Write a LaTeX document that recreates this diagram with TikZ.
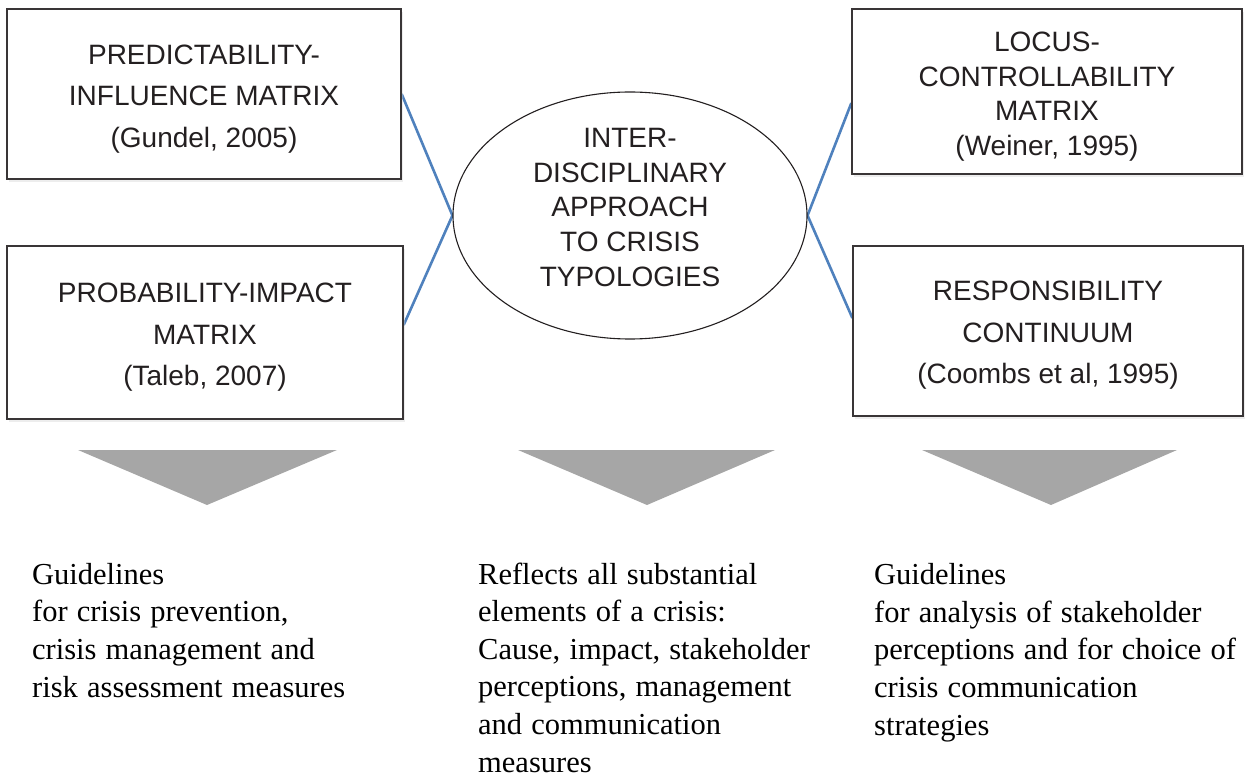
\documentclass[tikz,border=0pt]{standalone}
\usepackage{fontspec}
\setmainfont{Liberation Sans}
\newfontfamily\serifbody{Liberation Serif}
\usetikzlibrary{shadows,shapes.geometric,backgrounds}
\definecolor{linkblue}{RGB}{79,129,189}
\definecolor{chevgray}{RGB}{166,166,166}
\definecolor{ink}{RGB}{35,31,32}
\newcommand\widerspaces{\spaceskip=0.3em plus 0.1em minus 0.05em\relax}
\begin{document}
\begin{tikzpicture}[x=1pt,y=-1pt,
  typebox/.style={draw=ink!90, line width=1.3pt, fill=white, inner sep=0pt,
    drop shadow={shadow xshift=2pt, shadow yshift=-3pt, fill=gray!35, opacity=0.4}},
  boxtext/.style={inner sep=0pt, align=center, text=ink,
    font=\fontsize{28}{41.5}\selectfont},
  tighttext/.style={inner sep=0pt, align=center, text=ink,
    font=\fontsize{28}{34.6}\selectfont},
  centrebox/.style={ellipse, draw=ink, line width=1.1pt, fill=white, inner sep=0pt,
    minimum width=354pt, minimum height=247pt},
  link/.style={draw=linkblue, line width=2.6pt},
  chev/.style={fill=chevgray},
  outtext/.style={anchor=base west, inner sep=0pt, align=left, text=black,
    font=\serifbody\fontsize{30.5}{37.6}\selectfont,
    execute at begin node=\widerspaces}
]
\useasboundingbox (0,0) rectangle (1254,778);

\node[typebox, minimum width=394pt, minimum height=170pt] (tl) at (204,94) {};
\node[typebox, minimum width=396pt, minimum height=173pt] (bl) at (205,332.5) {};
\node[typebox, minimum width=390pt, minimum height=165pt] (tr) at (1047,91.5) {};
\node[typebox, minimum width=390pt, minimum height=170pt] (br) at (1048,331) {};
\node[centrebox] (core) at (630,215.5) {};

\node[boxtext] (tl-t) at ([yshift=-5pt]tl.center)
  {PREDICTABILITY-\\INFLUENCE MATRIX\\(Gundel, 2005)};
\node[boxtext] (bl-t) at ([yshift=-5pt]bl.center)
  {PROBABILITY-IMPACT\\MATRIX\\(Taleb, 2007)};
\node[tighttext] (tr-t) at ([yshift=-5pt]tr.center)
  {LOCUS-\\CONTROLLABILITY\\MATRIX\\(Weiner, 1995)};
\node[boxtext] (br-t) at ([yshift=-4.5pt]br.center)
  {RESPONSIBILITY\\CONTINUUM\\(Coombs et al, 1995)};
\node[tighttext] (core-t) at ([yshift=8pt]core.center)
  {INTER-\\DISCIPLINARY\\APPROACH\\TO CRISIS\\TYPOLOGIES};

\coordinate (blend) at ([yshift=7.5pt]bl.east);
\coordinate (trend) at ([yshift=-11.5pt]tr.west);
\coordinate (brend) at ([yshift=13pt]br.west);

\begin{scope}[on background layer]
\draw[link] (tl.east) -- (core.west) -- (blend);
\draw[link] (trend) -- (core.east) -- (brend);
\end{scope}

% chevrons
\fill[chev] (78,450) -- (337,450) -- (207,505) -- cycle;
\fill[chev] (518,450) -- (775,450) -- (647,505) -- cycle;
\fill[chev] (922,450) -- (1177,450) -- (1051,505) -- cycle;

% outcome texts (anchored at the baseline of their last line)
\node[outtext] (o1) at (32,697)
  {Guidelines\\for crisis prevention,\\crisis management and\\risk assessment measures};
\node[outtext] (o2) at (478,772)
  {Reflects all substantial\\elements of a crisis:\\Cause, impact, stakeholder\\perceptions, management\\and communication\\measures};
\node[outtext] (o3) at (874,735)
  {Guidelines\\for analysis of stakeholder\\perceptions and for choice of\\crisis communication\\strategies};
\end{tikzpicture}
\end{document}
